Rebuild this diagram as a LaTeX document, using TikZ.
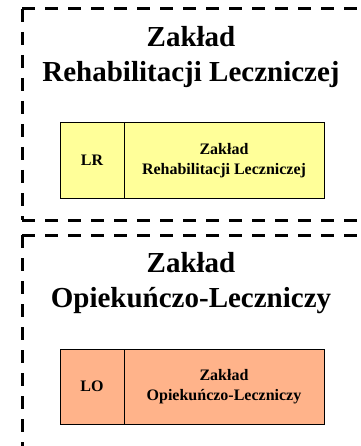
\documentclass[tikz,border=0pt]{standalone}
\usepackage{fontspec}
\setmainfont{Liberation Serif}
\usepackage{tikz}
\usetikzlibrary{positioning}
\definecolor{lryellow}{HTML}{FFFF99}
\definecolor{loorange}{HTML}{FFB38A}

\begin{document}
\begin{tikzpicture}[x=1pt, y=-1pt,
    frame/.style={line width=3pt, dash pattern=on 13pt off 10pt},
    title/.style={align=center, inner sep=0pt, font=\fontsize{29}{35}\selectfont\bfseries},
    codebox/.style={rectangle, draw, line width=1pt, minimum width=64pt, minimum height=75pt, inner sep=0pt, align=center, font=\fontsize{16}{20}\selectfont\bfseries},
    namebox/.style={codebox, minimum width=200pt}
]
    \useasboundingbox (0,0) rectangle (360,446);

    % Zaklad Rehabilitacji Lecznicze
    \coordinate (cornerLR) at (22,9);
    \coordinate (footLR) at (22,220);
    \draw[frame] (cornerLR) -- (360,9);
    \draw[frame] (cornerLR) -- (footLR);
    \draw[frame] (footLR) -- (360,220);
    \node[title] (titleLR) at (191,57) {Zakład\\Rehabilitacji Leczniczej};
    \node[codebox, fill=lryellow] (codeLR) at (92,160.5) {LR};
    \node[namebox, fill=lryellow, right=-1pt of codeLR] (nameLR) {Zakład\\Rehabilitacji Leczniczej};

    % Zaklad Opiekunczo-Leczniczy
    \coordinate (cornerLO) at (22,235);
    \draw[frame] (cornerLO) -- (360,235);
    \draw[frame] (cornerLO) -- (22,446);
    \node[title] (titleLO) at (191,283) {Zakład\\Opiekuńczo-Leczniczy};
    \node[codebox, fill=loorange] (codeLO) at (92,386.5) {LO};
    \node[namebox, fill=loorange, right=-1pt of codeLO] (nameLO) {Zakład\\Opiekuńczo-Leczniczy};
\end{tikzpicture}
\end{document}
